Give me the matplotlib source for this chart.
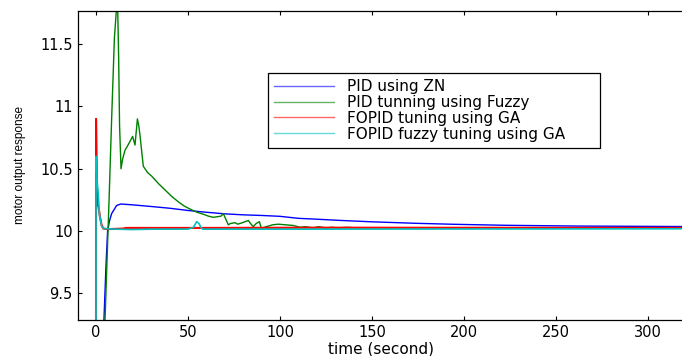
import matplotlib
matplotlib.use("Agg")
import matplotlib.pyplot as plt

# ---- data ----
t_zn = [0, 3, 4.3, 5.4, 6.3, 7.3, 8.5, 11.2, 13.5, 20, 30, 40, 50, 59, 70, 80, 90, 100,
        110, 120, 133, 150, 174, 195, 223, 261, 320]
y_zn = [8.6, 8.9, 9.28, 9.71, 10.0, 10.08, 10.14, 10.205, 10.217, 10.21, 10.197, 10.183,
        10.165, 10.152, 10.138, 10.13, 10.125, 10.118, 10.102, 10.095, 10.085, 10.074,
        10.062, 10.054, 10.046, 10.04, 10.036]

t_fz = [0, 3, 4.9, 7.1, 8.5, 10, 11.2, 11.8, 12.3, 12.8, 13.6, 14.5, 15.8, 17, 18.5, 19.9,
        21.2, 22.5, 23.3, 23.9, 25.7, 28, 30.3, 34, 37.5, 41, 44.7, 48, 52, 55, 58.3, 61,
        63.8, 66, 68, 69.2, 71.9, 73, 75.5, 77, 79.2, 81, 82.8, 84, 85.5, 87, 88.8, 90,
        91.5, 93.7, 96, 99, 103, 107, 111, 114, 118, 121, 125, 128, 132, 136, 140, 320]
y_fz = [8.6, 8.8, 9.286, 10.25, 10.9, 11.55, 11.8, 11.78, 11.4, 10.85, 10.5, 10.58, 10.65,
        10.68, 10.72, 10.76, 10.69, 10.9, 10.84, 10.77, 10.52, 10.47, 10.44, 10.38, 10.33,
        10.28, 10.235, 10.2, 10.17, 10.15, 10.135, 10.12, 10.11, 10.115, 10.12, 10.14,
        10.05, 10.06, 10.067, 10.055, 10.065, 10.075, 10.085, 10.06, 10.035, 10.06, 10.075,
        10.015, 10.03, 10.04, 10.05, 10.055, 10.05, 10.045, 10.03, 10.035, 10.025, 10.035,
        10.025, 10.03, 10.025, 10.03, 10.027, 10.025]

t_ga = [0, 0.02, 0.4, 0.7, 1.3, 2.2, 3, 4, 6, 15, 16, 60, 120, 320]
y_ga = [9.0, 10.9, 10.46, 10.22, 10.2, 10.11, 10.05, 10.02, 10.015, 10.02, 10.025, 10.025,
        10.027, 10.025]

t_fga = [0, 0.02, 0.6, 1.25, 1.8, 3.1, 4.5, 10, 20, 30, 50, 53, 54.7, 56, 57, 58, 100, 320]
y_fga = [9.0, 10.6, 10.4, 10.3, 10.14, 10.035, 10.02, 10.015, 10.012, 10.015, 10.015,
         10.03, 10.075, 10.06, 10.03, 10.015, 10.015, 10.018]

labels = ["PID using ZN", "PID tunning using Fuzzy", "FOPID tuning using GA",
          "FOPID fuzzy tuning using GA"]
xticks = [0, 50, 100, 150, 200, 250, 300]
yticks = [9.5, 10, 10.5, 11, 11.5]
ytick_labels = ["9.5", "10", "10.5", "11", "11.5"]

# ---- figure ----
fig = plt.figure(figsize=(6.82, 3.56), dpi=100)
W, H = 682, 356
ax = fig.add_axes([77.6 / W, (H - 320) / H, (684.8 - 77.6) / W, 309 / H])

ax.plot(t_zn, y_zn, color="#0000ff", lw=1.0, label=labels[0])
ax.plot(t_fz, y_fz, color="#008000", lw=1.0, label=labels[1])
ax.plot(t_ga, y_ga, color="#ff0000", lw=1.5, label=labels[2])
ax.plot(t_fga, y_fga, color="#00c0c0", lw=1.2, label=labels[3])

ax.set_xlim(-10, 320)
ax.set_ylim(9.286, 11.766)
ax.set_xticks(xticks)
ax.set_yticks(yticks)
ax.set_yticklabels(ytick_labels)

for lab in ax.get_xticklabels() + ax.get_yticklabels():
    lab.set_fontfamily("DejaVu Sans")
    lab.set_fontsize(10.5)

ax.tick_params(direction="in", length=3, width=0.8, top=True, right=False,
               color="black", pad=3.5)
for s in ax.spines.values():
    s.set_linewidth(0.9)
    s.set_color("black")

ax.set_xlabel("time (second)", fontfamily="DejaVu Sans", fontsize=11, labelpad=1)
ax.set_ylabel("motor output response", fontfamily="Liberation Sans", fontsize=8.5,
              labelpad=10)

leg = ax.legend(loc="upper left", bbox_to_anchor=(0.3136, 0.799, 0.5464, 0.0),
                mode="expand", prop=dict(family="DejaVu Sans", size=11),
                frameon=True, fancybox=False, framealpha=1, edgecolor="black",
                handlelength=3.9, handletextpad=0.9, labelspacing=0.05,
                borderpad=0.4, borderaxespad=0)
leg.get_frame().set_linewidth(0.9)
for ln in leg.get_lines():
    ln.set_linewidth(1.0)
    ln.set_alpha(0.6)

fig.savefig("out.png", dpi=100)
